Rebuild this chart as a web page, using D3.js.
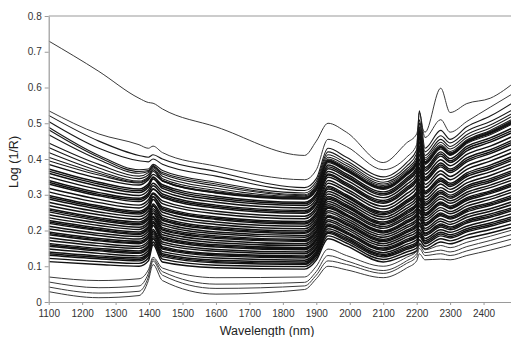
<!DOCTYPE html>
<html><head><meta charset="utf-8">
<script src="https://cdn.jsdelivr.net/npm/d3@7"></script>
<style>body{margin:0;background:#fff}svg{display:block}</style>
</head><body><svg id="c" width="511" height="337"></svg>
<script>
// Wavelength grid (nm) shared by all spectra
const wavelengths = [1100,1250,1370,1398,1412,1440,1600,1865,1900,1935,1990,2100,2170,2200,2208,2225,2272,2300,2350,2420,2500];

// Highest spectra
const spectrumA = [.73,.645,.57,.558,.556,.54,.49,.41,.45,.50,.475,.39,.445,.47,.50,.475,.598,.53,.555,.57,.62];
const spectrumB = [.535,.47,.44,.43,.436,.418,.38,.342,.37,.455,.435,.37,.405,.44,.53,.46,.51,.475,.505,.545,.59];

// Upper group
const upperSpectra = [
  [.522,.45,.41,.405,.412,.40,.365,.32,.345,.43,.405,.35,.39,.425,.535,.43,.48,.455,.49,.52,.565],
  [.505,.43,.395,.392,.40,.385,.352,.312,.337,.42,.395,.342,.38,.415,.51,.42,.465,.445,.478,.505,.545],
  [.489,.41,.37,.372,.385,.368,.335,.305,.33,.412,.388,.335,.372,.405,.50,.41,.455,.435,.468,.495,.535],
  [.482,.405,.365,.368,.38,.362,.33,.30,.325,.405,.382,.33,.366,.398,.49,.403,.447,.428,.46,.487,.527],
  [.468,.398,.36,.365,.378,.358,.325,.297,.322,.40,.376,.326,.362,.393,.48,.398,.44,.421,.453,.48,.518],
  [.445,.385,.352,.362,.382,.352,.318,.294,.319,.396,.372,.322,.358,.388,.47,.393,.434,.415,.447,.474,.512],
  [.432,.375,.345,.356,.375,.345,.312,.292,.317,.398,.372,.32,.36,.39,.485,.392,.435,.416,.45,.477,.515],
  [.418,.366,.338,.35,.37,.34,.307,.29,.315,.395,.37,.318,.357,.386,.47,.39,.432,.413,.446,.472,.51],
  [.405,.36,.335,.348,.37,.338,.306,.29,.315,.39,.366,.315,.354,.383,.46,.385,.428,.41,.443,.468,.505],
  [.395,.355,.333,.346,.365,.34,.308,.292,.318,.396,.37,.32,.36,.39,.475,.392,.436,.417,.45,.476,.512]
];

// Main dense band
const bandSpectra = [
  [.385,.346,.327,.342,.357,.339,.305,.288,.313,.393,.368,.318,.358,.388,.477,.388,.432,.412,.447,.472,.507],
  [.372,.335,.316,.331,.348,.328,.296,.279,.304,.383,.358,.308,.347,.376,.462,.376,.420,.401,.435,.459,.493],
  [.366,.33,.311,.326,.35,.323,.291,.275,.3,.378,.353,.303,.342,.37,.46,.371,.414,.395,.429,.453,.486],
  [.36,.324,.306,.321,.344,.318,.286,.27,.295,.373,.349,.299,.337,.365,.448,.366,.408,.39,.423,.447,.48],
  [.35,.315,.298,.313,.332,.31,.279,.263,.288,.365,.341,.292,.329,.356,.437,.357,.398,.381,.413,.436,.469],
  [.34,.306,.29,.305,.325,.302,.271,.256,.281,.358,.333,.284,.321,.347,.425,.348,.389,.372,.403,.426,.459],
  [.335,.301,.286,.3,.315,.297,.267,.252,.277,.355,.329,.28,.316,.342,.43,.343,.383,.367,.397,.42,.453],
  [.33,.297,.281,.296,.317,.293,.263,.248,.273,.349,.325,.276,.312,.338,.413,.339,.378,.362,.392,.415,.447],
  [.318,.287,.271,.286,.305,.283,.254,.24,.265,.34,.316,.268,.303,.328,.40,.329,.367,.351,.381,.404,.435],
  [.308,.278,.263,.278,.302,.275,.247,.233,.258,.332,.309,.26,.294,.319,.389,.32,.358,.342,.371,.394,.424],
  [.298,.269,.254,.269,.294,.266,.238,.225,.25,.324,.30,.252,.285,.309,.376,.31,.347,.332,.361,.383,.413],
  [.293,.265,.25,.265,.295,.262,.234,.221,.246,.32,.296,.248,.281,.304,.375,.306,.342,.327,.356,.377,.407],
  [.288,.26,.246,.261,.287,.258,.231,.218,.243,.316,.293,.244,.277,.30,.365,.302,.338,.323,.351,.372,.402],
  [.279,.252,.239,.254,.287,.251,.224,.212,.237,.309,.286,.238,.27,.292,.355,.294,.33,.315,.343,.364,.393],
  [.27,.244,.231,.246,.274,.243,.217,.205,.23,.302,.279,.231,.262,.284,.344,.286,.32,.307,.333,.354,.383],
  [.261,.236,.224,.239,.268,.236,.21,.199,.224,.295,.272,.224,.255,.276,.334,.279,.312,.299,.325,.345,.373],
  [.257,.232,.22,.235,.27,.232,.206,.195,.22,.291,.268,.22,.251,.272,.33,.274,.307,.294,.32,.34,.368],
  [.252,.228,.216,.231,.261,.228,.203,.192,.217,.287,.265,.217,.247,.268,.323,.27,.303,.29,.315,.335,.363],
  [.244,.221,.209,.224,.255,.221,.196,.186,.211,.281,.258,.211,.241,.26,.314,.263,.295,.283,.307,.327,.354],
  [.236,.214,.203,.218,.249,.215,.191,.181,.206,.275,.253,.206,.235,.254,.306,.256,.288,.276,.30,.32,.346],
  [.228,.207,.196,.211,.248,.208,.185,.175,.20,.269,.246,.199,.228,.246,.296,.249,.28,.268,.292,.311,.338],
  [.224,.203,.192,.207,.24,.204,.181,.172,.197,.265,.243,.196,.224,.242,.29,.245,.276,.264,.288,.307,.333],
  [.22,.20,.189,.204,.237,.201,.178,.169,.194,.262,.24,.193,.221,.239,.287,.242,.272,.261,.284,.303,.329],
  [.212,.192,.183,.198,.232,.195,.172,.163,.188,.255,.234,.187,.214,.231,.277,.235,.264,.253,.276,.294,.32],
  [.204,.186,.176,.191,.226,.188,.166,.158,.183,.25,.228,.181,.208,.225,.269,.228,.257,.247,.268,.287,.312],
  [.196,.178,.17,.185,.221,.182,.16,.152,.177,.243,.222,.175,.201,.218,.259,.221,.249,.239,.26,.278,.303],
  [.192,.174,.166,.181,.222,.178,.157,.149,.174,.24,.218,.172,.197,.214,.258,.217,.245,.235,.256,.274,.298],
  [.188,.171,.163,.178,.215,.175,.154,.146,.171,.237,.215,.169,.194,.21,.25,.214,.241,.232,.252,.27,.294],
  [.18,.164,.156,.171,.214,.168,.147,.14,.165,.23,.209,.163,.188,.203,.24,.206,.233,.224,.244,.261,.285],
  [.172,.157,.15,.165,.203,.162,.142,.135,.16,.225,.203,.157,.182,.196,.232,.20,.226,.217,.237,.254,.277],
  [.164,.15,.143,.158,.197,.155,.135,.129,.154,.218,.197,.151,.175,.189,.222,.193,.218,.21,.229,.246,.268],
  [.16,.146,.139,.154,.198,.151,.132,.126,.151,.214,.194,.148,.171,.185,.22,.19,.214,.206,.225,.241,.264],
  [.156,.143,.136,.151,.191,.148,.129,.123,.148,.211,.191,.145,.168,.181,.213,.186,.21,.202,.221,.237,.26],
  [.148,.136,.129,.144,.185,.141,.123,.117,.142,.205,.184,.138,.161,.174,.203,.178,.202,.195,.212,.229,.251],
  [.14,.129,.123,.138,.18,.135,.117,.112,.137,.199,.179,.133,.155,.167,.195,.172,.195,.188,.205,.221,.243],
  [.135,.125,.119,.134,.176,.131,.113,.108,.133,.195,.175,.13,.151,.163,.19,.167,.19,.183,.2,.216,.238],
  [.131,.121,.115,.13,.168,.127,.11,.105,.13,.192,.171,.126,.147,.159,.184,.163,.185,.179,.196,.212,.233],
  [.122,.113,.108,.123,.167,.12,.103,.099,.124,.185,.165,.119,.14,.151,.174,.156,.177,.171,.187,.203,.223],
  [.113,.105,.10,.115,.16,.112,.096,.092,.117,.177,.157,.112,.132,.143,.163,.148,.168,.163,.178,.193,.213]
];

// Lowest spectra
const lowSpectra = [
  [.07,.06,.065,.09,.125,.095,.068,.07,.1,.148,.13,.1,.125,.142,.165,.146,.158,.152,.167,.184,.205],
  [.056,.04,.045,.08,.12,.085,.05,.055,.085,.13,.115,.088,.115,.135,.158,.138,.145,.14,.155,.172,.193],
  [.042,.025,.03,.07,.115,.075,.038,.045,.075,.115,.105,.08,.108,.127,.15,.13,.135,.13,.143,.16,.18],
  [.029,.012,.018,.06,.105,.06,.022,.035,.065,.10,.09,.068,.095,.115,.135,.118,.12,.118,.13,.145,.165]
];

const xTicks = [1100,1200,1300,1400,1500,1600,1700,1800,1900,2000,2100,2200,2300,2400];
const yTicks = [0,0.1,0.2,0.3,0.4,0.5,0.6,0.7,0.8];
const yTickLabels = ["0","0.1","0.2","0.3","0.4","0.5","0.6","0.7","0.8"];

const W = 511, H = 337;
const svg = d3.select("#c");
const mLeft = 48.7, mTop = 16, mBottom = 302;
const x = d3.scaleLinear().domain([1100, 2500]).range([mLeft, mLeft + 1400 * 0.3345]);
const y = d3.scaleLinear().domain([0, 0.8]).range([mBottom, mTop]);

svg.append("defs").append("clipPath").attr("id", "plot")
  .append("rect").attr("x", mLeft).attr("y", mTop).attr("width", W - mLeft).attr("height", mBottom - mTop);

svg.append("line").attr("x1", mLeft).attr("x2", W).attr("y1", y(0.8)).attr("y2", y(0.8))
  .attr("stroke", "#9a9a9a").attr("stroke-width", 1.2);

const line = d3.line()
  .x((d, i) => x(wavelengths[i]))
  .y(d => y(d))
  .curve(d3.curveMonotoneX);

const plot = svg.append("g").attr("clip-path", "url(#plot)");
const groups = [
  {data: [spectrumA, spectrumB], color: "#3a3a3a", width: 1},
  {data: upperSpectra, color: "#1a1a1a", width: 1.1},
  {data: bandSpectra, color: "#111", width: 1.45},
  {data: lowSpectra, color: "#3a3a3a", width: 1}
];
groups.forEach(g => {
  plot.append("g").selectAll("path").data(g.data).join("path")
    .attr("d", line)
    .attr("fill", "none")
    .attr("stroke", g.color)
    .attr("stroke-width", g.width);
});

const font = "Liberation Sans, Arial, sans-serif";

const xAxis = svg.append("g").attr("transform", `translate(0,${mBottom})`)
  .call(d3.axisBottom(x).tickValues(xTicks).tickSize(3).tickSizeOuter(0).tickPadding(5).tickFormat(d3.format("d")));
const yAxis = svg.append("g").attr("transform", `translate(${mLeft},0)`)
  .call(d3.axisLeft(y).tickValues(yTicks).tickSize(4).tickSizeOuter(0).tickPadding(3)
    .tickFormat((d, i) => yTickLabels[i]));

[xAxis, yAxis].forEach(g => {
  g.select(".domain").attr("stroke", "#9a9a9a").attr("stroke-width", 1.2);
  g.selectAll(".tick line").attr("stroke", "#9a9a9a");
  g.selectAll(".tick text").attr("fill", "#333").attr("font-family", font).attr("font-size", 10);
});

svg.append("text").attr("x", 267).attr("y", 335).attr("text-anchor", "middle")
  .attr("font-family", font).attr("font-size", 12.5).attr("fill", "#222").text("Wavelength (nm)");
svg.append("text").attr("transform", "translate(18,162) rotate(-90)").attr("text-anchor", "middle")
  .attr("font-family", font).attr("font-size", 12.5).attr("fill", "#222").text("Log (1/R)");
</script></body></html>
